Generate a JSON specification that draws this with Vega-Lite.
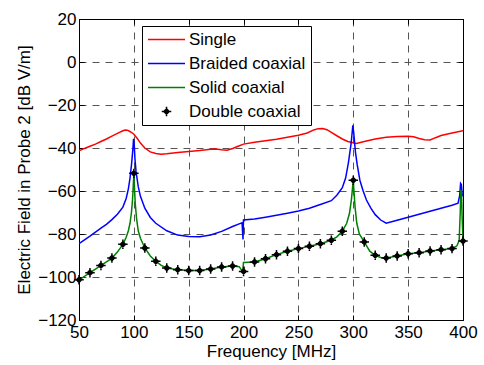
{
  "$schema": "https://vega.github.io/schema/vega-lite/v6.json",
  "width": 384,
  "height": 301,
  "autosize": {"type": "none"},
  "padding": {"left": 79, "top": 19, "right": 21, "bottom": 45},
  "background": "white",
  "config": {
    "view": {"stroke": "black", "strokeWidth": 1},
    "font": "Liberation Sans",
    "axis": {
      "domainColor": "black",
      "tickColor": "black",
      "tickSize": -5,
      "labelFont": "Liberation Sans",
      "labelFontSize": 17,
      "labelColor": "black",
      "labelFlush": false,
      "labelOverlap": false,
      "titleFont": "Liberation Sans",
      "titleFontSize": 17,
      "titleFontWeight": "normal",
      "titleColor": "black",
      "gridColor": "#555555",
      "gridDash": [7, 6],
      "gridWidth": 1
    }
  },
  "datasets": {
    "lines": [
      {"s": "Single", "f": 50, "v": -41.3}, {"s": "Single", "f": 55, "v": -40.2}, {"s": "Single", "f": 60, "v": -39.2}, {"s": "Single", "f": 65, "v": -38.2}, {"s": "Single", "f": 70, "v": -37}, {"s": "Single", "f": 75, "v": -35.8}, {"s": "Single", "f": 80, "v": -34.5}, {"s": "Single", "f": 85, "v": -33.2}, {"s": "Single", "f": 90, "v": -32}, {"s": "Single", "f": 92, "v": -31.6}, {"s": "Single", "f": 94, "v": -31.7}, {"s": "Single", "f": 96, "v": -32.2}, {"s": "Single", "f": 98, "v": -32.8}, {"s": "Single", "f": 100, "v": -33.6}, {"s": "Single", "f": 103, "v": -35.5}, {"s": "Single", "f": 106, "v": -37.7}, {"s": "Single", "f": 110, "v": -40}, {"s": "Single", "f": 115, "v": -41.8}, {"s": "Single", "f": 120, "v": -42.6}, {"s": "Single", "f": 125, "v": -42.9}, {"s": "Single", "f": 130, "v": -42.7}, {"s": "Single", "f": 140, "v": -42.1}, {"s": "Single", "f": 150, "v": -41.6}, {"s": "Single", "f": 160, "v": -41.2}, {"s": "Single", "f": 170, "v": -40.6}, {"s": "Single", "f": 175, "v": -40.5}, {"s": "Single", "f": 180, "v": -40.8}, {"s": "Single", "f": 185, "v": -41}, {"s": "Single", "f": 190, "v": -40.2}, {"s": "Single", "f": 195, "v": -39.2}, {"s": "Single", "f": 200, "v": -38.2}, {"s": "Single", "f": 210, "v": -37.3}, {"s": "Single", "f": 220, "v": -36.6}, {"s": "Single", "f": 230, "v": -35.9}, {"s": "Single", "f": 240, "v": -35}, {"s": "Single", "f": 250, "v": -34.1}, {"s": "Single", "f": 258, "v": -33}, {"s": "Single", "f": 264, "v": -31.6}, {"s": "Single", "f": 268, "v": -31}, {"s": "Single", "f": 272, "v": -30.9}, {"s": "Single", "f": 276, "v": -31.5}, {"s": "Single", "f": 280, "v": -32.7}, {"s": "Single", "f": 285, "v": -34.3}, {"s": "Single", "f": 290, "v": -35.8}, {"s": "Single", "f": 295, "v": -37}, {"s": "Single", "f": 300, "v": -37.6}, {"s": "Single", "f": 303, "v": -37.9}, {"s": "Single", "f": 310, "v": -37}, {"s": "Single", "f": 320, "v": -35.8}, {"s": "Single", "f": 330, "v": -35}, {"s": "Single", "f": 340, "v": -34.7}, {"s": "Single", "f": 350, "v": -34.5}, {"s": "Single", "f": 355, "v": -34.8}, {"s": "Single", "f": 360, "v": -35.6}, {"s": "Single", "f": 365, "v": -36.2}, {"s": "Single", "f": 370, "v": -36.3}, {"s": "Single", "f": 375, "v": -35.2}, {"s": "Single", "f": 380, "v": -34.2}, {"s": "Single", "f": 390, "v": -33}, {"s": "Single", "f": 400, "v": -32},

      {"s": "Braided coaxial", "f": 50, "v": -84.5}, {"s": "Braided coaxial", "f": 60, "v": -81}, {"s": "Braided coaxial", "f": 70, "v": -77.3}, {"s": "Braided coaxial", "f": 75, "v": -75.5}, {"s": "Braided coaxial", "f": 80, "v": -73.3}, {"s": "Braided coaxial", "f": 85, "v": -70.8}, {"s": "Braided coaxial", "f": 90, "v": -67.5}, {"s": "Braided coaxial", "f": 93, "v": -63.5}, {"s": "Braided coaxial", "f": 95, "v": -59}, {"s": "Braided coaxial", "f": 96.5, "v": -54}, {"s": "Braided coaxial", "f": 98, "v": -47}, {"s": "Braided coaxial", "f": 99.2, "v": -40}, {"s": "Braided coaxial", "f": 99.7, "v": -35.7}, {"s": "Braided coaxial", "f": 100.3, "v": -38}, {"s": "Braided coaxial", "f": 101, "v": -45}, {"s": "Braided coaxial", "f": 102, "v": -51}, {"s": "Braided coaxial", "f": 104, "v": -58}, {"s": "Braided coaxial", "f": 106, "v": -62.5}, {"s": "Braided coaxial", "f": 110, "v": -68}, {"s": "Braided coaxial", "f": 115, "v": -72.3}, {"s": "Braided coaxial", "f": 120, "v": -75}, {"s": "Braided coaxial", "f": 130, "v": -78.5}, {"s": "Braided coaxial", "f": 140, "v": -80.5}, {"s": "Braided coaxial", "f": 150, "v": -81.2}, {"s": "Braided coaxial", "f": 160, "v": -81.3}, {"s": "Braided coaxial", "f": 170, "v": -80.5}, {"s": "Braided coaxial", "f": 180, "v": -78.8}, {"s": "Braided coaxial", "f": 190, "v": -76.5}, {"s": "Braided coaxial", "f": 196, "v": -75.3}, {"s": "Braided coaxial", "f": 198.6, "v": -74.8}, {"s": "Braided coaxial", "f": 199.1, "v": -79}, {"s": "Braided coaxial", "f": 199.5, "v": -82.5}, {"s": "Braided coaxial", "f": 199.9, "v": -73.5}, {"s": "Braided coaxial", "f": 210, "v": -73}, {"s": "Braided coaxial", "f": 220, "v": -72.2}, {"s": "Braided coaxial", "f": 230, "v": -71.3}, {"s": "Braided coaxial", "f": 240, "v": -70.3}, {"s": "Braided coaxial", "f": 250, "v": -69.3}, {"s": "Braided coaxial", "f": 260, "v": -68}, {"s": "Braided coaxial", "f": 270, "v": -66.3}, {"s": "Braided coaxial", "f": 280, "v": -64.5}, {"s": "Braided coaxial", "f": 285, "v": -62}, {"s": "Braided coaxial", "f": 290, "v": -58.5}, {"s": "Braided coaxial", "f": 293, "v": -54}, {"s": "Braided coaxial", "f": 295.5, "v": -47}, {"s": "Braided coaxial", "f": 298, "v": -38}, {"s": "Braided coaxial", "f": 299.6, "v": -29.5}, {"s": "Braided coaxial", "f": 300.4, "v": -33}, {"s": "Braided coaxial", "f": 302, "v": -42}, {"s": "Braided coaxial", "f": 303.5, "v": -47.5}, {"s": "Braided coaxial", "f": 306, "v": -55}, {"s": "Braided coaxial", "f": 309, "v": -60}, {"s": "Braided coaxial", "f": 312, "v": -64.2}, {"s": "Braided coaxial", "f": 316, "v": -68}, {"s": "Braided coaxial", "f": 320, "v": -71}, {"s": "Braided coaxial", "f": 325, "v": -73.5}, {"s": "Braided coaxial", "f": 330, "v": -75}, {"s": "Braided coaxial", "f": 340, "v": -73.6}, {"s": "Braided coaxial", "f": 350, "v": -72.2}, {"s": "Braided coaxial", "f": 360, "v": -70.8}, {"s": "Braided coaxial", "f": 370, "v": -69.4}, {"s": "Braided coaxial", "f": 380, "v": -68}, {"s": "Braided coaxial", "f": 390, "v": -66.6}, {"s": "Braided coaxial", "f": 395.5, "v": -65.7}, {"s": "Braided coaxial", "f": 397, "v": -62}, {"s": "Braided coaxial", "f": 397.8, "v": -56.5}, {"s": "Braided coaxial", "f": 398.5, "v": -57}, {"s": "Braided coaxial", "f": 399.2, "v": -61}, {"s": "Braided coaxial", "f": 400, "v": -62.5},

      {"s": "Solid coaxial", "f": 50, "v": -101.3}, {"s": "Solid coaxial", "f": 55, "v": -99.7}, {"s": "Solid coaxial", "f": 60, "v": -98}, {"s": "Solid coaxial", "f": 65, "v": -96.3}, {"s": "Solid coaxial", "f": 70, "v": -94.6}, {"s": "Solid coaxial", "f": 75, "v": -93}, {"s": "Solid coaxial", "f": 80, "v": -91.2}, {"s": "Solid coaxial", "f": 85, "v": -88.4}, {"s": "Solid coaxial", "f": 90, "v": -84.8}, {"s": "Solid coaxial", "f": 93, "v": -81.5}, {"s": "Solid coaxial", "f": 95, "v": -78.5}, {"s": "Solid coaxial", "f": 96.5, "v": -75}, {"s": "Solid coaxial", "f": 97.8, "v": -70}, {"s": "Solid coaxial", "f": 98.8, "v": -64}, {"s": "Solid coaxial", "f": 99.5, "v": -57}, {"s": "Solid coaxial", "f": 100, "v": -52}, {"s": "Solid coaxial", "f": 100.5, "v": -58}, {"s": "Solid coaxial", "f": 101.3, "v": -66}, {"s": "Solid coaxial", "f": 102.5, "v": -73}, {"s": "Solid coaxial", "f": 104, "v": -78.5}, {"s": "Solid coaxial", "f": 106, "v": -82}, {"s": "Solid coaxial", "f": 110, "v": -86.5}, {"s": "Solid coaxial", "f": 115, "v": -90.2}, {"s": "Solid coaxial", "f": 120, "v": -92.7}, {"s": "Solid coaxial", "f": 125, "v": -94.6}, {"s": "Solid coaxial", "f": 130, "v": -95.8}, {"s": "Solid coaxial", "f": 140, "v": -96.6}, {"s": "Solid coaxial", "f": 150, "v": -97}, {"s": "Solid coaxial", "f": 160, "v": -97}, {"s": "Solid coaxial", "f": 170, "v": -96.3}, {"s": "Solid coaxial", "f": 180, "v": -95.3}, {"s": "Solid coaxial", "f": 190, "v": -94.9}, {"s": "Solid coaxial", "f": 196, "v": -95.2}, {"s": "Solid coaxial", "f": 199.3, "v": -97.6}, {"s": "Solid coaxial", "f": 199.9, "v": -93.2}, {"s": "Solid coaxial", "f": 210, "v": -93}, {"s": "Solid coaxial", "f": 220, "v": -91.5}, {"s": "Solid coaxial", "f": 230, "v": -89.6}, {"s": "Solid coaxial", "f": 240, "v": -88}, {"s": "Solid coaxial", "f": 250, "v": -86.8}, {"s": "Solid coaxial", "f": 260, "v": -85.7}, {"s": "Solid coaxial", "f": 270, "v": -84.5}, {"s": "Solid coaxial", "f": 280, "v": -82.9}, {"s": "Solid coaxial", "f": 285, "v": -81.3}, {"s": "Solid coaxial", "f": 290, "v": -78.7}, {"s": "Solid coaxial", "f": 294, "v": -75}, {"s": "Solid coaxial", "f": 296.5, "v": -70.5}, {"s": "Solid coaxial", "f": 298.3, "v": -64}, {"s": "Solid coaxial", "f": 299.4, "v": -58}, {"s": "Solid coaxial", "f": 300, "v": -55}, {"s": "Solid coaxial", "f": 300.6, "v": -60}, {"s": "Solid coaxial", "f": 301.7, "v": -68}, {"s": "Solid coaxial", "f": 303.2, "v": -75}, {"s": "Solid coaxial", "f": 305.5, "v": -80}, {"s": "Solid coaxial", "f": 310, "v": -83.7}, {"s": "Solid coaxial", "f": 315, "v": -88}, {"s": "Solid coaxial", "f": 320, "v": -89.9}, {"s": "Solid coaxial", "f": 325, "v": -90.9}, {"s": "Solid coaxial", "f": 330, "v": -91.2}, {"s": "Solid coaxial", "f": 340, "v": -90.2}, {"s": "Solid coaxial", "f": 350, "v": -89.2}, {"s": "Solid coaxial", "f": 360, "v": -88.7}, {"s": "Solid coaxial", "f": 370, "v": -87.9}, {"s": "Solid coaxial", "f": 380, "v": -87.3}, {"s": "Solid coaxial", "f": 390, "v": -86.8}, {"s": "Solid coaxial", "f": 394.5, "v": -85.5}, {"s": "Solid coaxial", "f": 396.5, "v": -83}, {"s": "Solid coaxial", "f": 397.5, "v": -70}, {"s": "Solid coaxial", "f": 398, "v": -60}, {"s": "Solid coaxial", "f": 398.6, "v": -60}, {"s": "Solid coaxial", "f": 399.2, "v": -72}, {"s": "Solid coaxial", "f": 400, "v": -83.3}
    ],
    "markers": [
      {"s": "Double coaxial", "f": 50, "v": -101.3}, {"s": "Double coaxial", "f": 60, "v": -98}, {"s": "Double coaxial", "f": 70, "v": -94.6}, {"s": "Double coaxial", "f": 80, "v": -91.2}, {"s": "Double coaxial", "f": 90, "v": -84.8}, {"s": "Double coaxial", "f": 100, "v": -51.8}, {"s": "Double coaxial", "f": 110, "v": -86.5}, {"s": "Double coaxial", "f": 120, "v": -92.7}, {"s": "Double coaxial", "f": 130, "v": -95.8}, {"s": "Double coaxial", "f": 140, "v": -96.6}, {"s": "Double coaxial", "f": 150, "v": -97}, {"s": "Double coaxial", "f": 160, "v": -97}, {"s": "Double coaxial", "f": 170, "v": -96.3}, {"s": "Double coaxial", "f": 180, "v": -95.3}, {"s": "Double coaxial", "f": 190, "v": -94.9}, {"s": "Double coaxial", "f": 200, "v": -97.4}, {"s": "Double coaxial", "f": 210, "v": -93}, {"s": "Double coaxial", "f": 220, "v": -91.5}, {"s": "Double coaxial", "f": 230, "v": -89.6}, {"s": "Double coaxial", "f": 240, "v": -88}, {"s": "Double coaxial", "f": 250, "v": -86.8}, {"s": "Double coaxial", "f": 260, "v": -85.7}, {"s": "Double coaxial", "f": 270, "v": -84.5}, {"s": "Double coaxial", "f": 280, "v": -82.9}, {"s": "Double coaxial", "f": 290, "v": -78.7}, {"s": "Double coaxial", "f": 300, "v": -55}, {"s": "Double coaxial", "f": 310, "v": -83.7}, {"s": "Double coaxial", "f": 320, "v": -89.9}, {"s": "Double coaxial", "f": 330, "v": -91.2}, {"s": "Double coaxial", "f": 340, "v": -90.2}, {"s": "Double coaxial", "f": 350, "v": -89.2}, {"s": "Double coaxial", "f": 360, "v": -88.7}, {"s": "Double coaxial", "f": 370, "v": -87.9}, {"s": "Double coaxial", "f": 380, "v": -87.3}, {"s": "Double coaxial", "f": 390, "v": -86.8}, {"s": "Double coaxial", "f": 400, "v": -83.3}
    ]
  },
  "layer": [
    {
      "data": {"name": "lines"},
      "mark": {"type": "line", "strokeWidth": 1.5, "clip": true},
      "encoding": {
        "x": {
          "field": "f", "type": "quantitative",
          "scale": {"domain": [50, 400], "nice": false, "zero": false},
          "axis": {"values": [50, 100, 150, 200, 250, 300, 350, 400], "grid": true, "labelPadding": 9, "title": "Frequency [MHz]", "titlePadding": 3}
        },
        "y": {
          "field": "v", "type": "quantitative",
          "scale": {"domain": [-120, 20], "nice": false, "zero": false},
          "axis": {"values": [-120, -100, -80, -60, -40, -20, 0, 20], "grid": true, "labelPadding": 8, "title": "Electric Field in Probe 2 [dB V/m]", "titlePadding": 4}
        },
        "color": {
          "field": "s", "type": "nominal",
          "scale": {"domain": ["Single", "Braided coaxial", "Solid coaxial", "Double coaxial"], "range": ["#ff0000", "#0000ff", "#008000", "#000000"]},
          "legend": {
            "orient": "none", "legendX": 63, "legendY": 7, "title": null,
            "symbolType": "stroke", "symbolSize": 1369, "symbolStrokeWidth": 1.5,
            "clipHeight": 17,
            "labelFont": "Liberation Sans", "labelFontSize": 17, "labelColor": "black", "labelOffset": 3,
            "padding": 5, "rowPadding": 6,
            "strokeColor": "black", "fillColor": "white",
            "encode": {
              "symbols": {
                "update": {
                  "x": {"value": 19.5},
                  "shape": {"signal": "datum.value === 'Double coaxial' ? 'M0,-1L0,1M-1,0L1,0M0,-0.55L0.55,0L0,0.55L-0.55,0Z' : 'stroke'"},
                  "size": {"signal": "datum.value === 'Double coaxial' ? 90 : 1369"},
                  "fill": {"signal": "datum.value === 'Double coaxial' ? '#000000' : 'transparent'"},
                  "stroke": {"signal": "scale('color', datum.value)"},
                  "strokeWidth": {"value": 1.5},
                  "opacity": {"value": 1}
                }
              }
            }
          }
        },
        "detail": {"field": "s"}
      }
    },
    {
      "data": {"name": "markers"},
      "mark": {"type": "point", "shape": "M0,-1L0,1M-1,0L1,0M0,-0.55L0.55,0L0,0.55L-0.55,0Z", "filled": true, "size": 90, "stroke": "black", "strokeWidth": 1.5, "opacity": 1},
      "encoding": {
        "x": {"field": "f", "type": "quantitative", "scale": {"domain": [50, 400], "nice": false, "zero": false}, "axis": null},
        "y": {"field": "v", "type": "quantitative", "scale": {"domain": [-120, 20], "nice": false, "zero": false}, "axis": null},
        "color": {"field": "s", "type": "nominal"}
      }
    },
    {
      "data": {"name": "markers"},
      "mark": {"type": "point", "opacity": 0},
      "encoding": {
        "x": {"field": "f", "type": "quantitative", "scale": {"domain": [50, 400], "nice": false, "zero": false},
          "axis": {"orient": "top", "values": [50, 100, 150, 200, 250, 300, 350, 400], "labels": false, "title": null, "grid": false}},
        "y": {"field": "v", "type": "quantitative", "scale": {"domain": [-120, 20], "nice": false, "zero": false},
          "axis": {"orient": "right", "values": [-120, -100, -80, -60, -40, -20, 0, 20], "labels": false, "title": null, "grid": false}}
      }
    }
  ],
  "resolve": {"axis": {"x": "independent", "y": "independent"}}
}
